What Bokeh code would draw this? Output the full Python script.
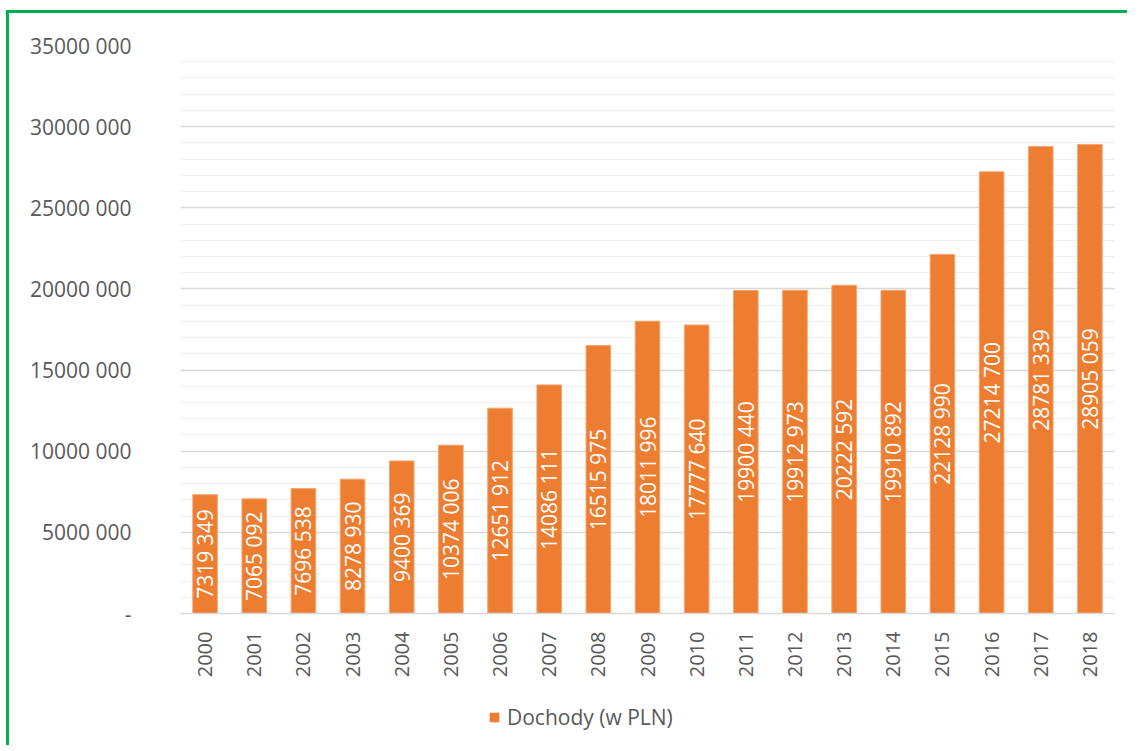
import math
from bokeh.plotting import figure
from bokeh.layouts import column
from bokeh.models import ColumnDataSource, FixedTicker, Legend, LegendItem
from bokeh.core.properties import value
from bokeh.embed import file_html
from bokeh.resources import INLINE

years = [str(y) for y in range(2000, 2019)]
dochody = [7319349, 7065092, 7696538, 8278930, 9400369, 10374006, 12651912,
           14086111, 16515975, 18011996, 17777640, 19900440, 19912973,
           20222592, 19910892, 22128990, 27214700, 28781339, 28905059]
y_ticks = [0, 5000000, 10000000, 15000000, 20000000, 25000000, 30000000, 35000000]
y_tick_labels = ["-", "5000 000", "10000 000", "15000 000", "20000 000",
                 "25000 000", "30000 000", "35000 000"]
y_minor = list(range(0, 35000001, 1000000))
series_name = "Dochody (w PLN)"

FONT = "Open Sans"
GREY = "#595959"
ORANGE = "#ED7D31"


def fmt(v):
    return f"{v // 1000} {v % 1000:03d}"


source = ColumnDataSource(dict(
    year=years,
    value=dochody,
    mid=[v / 2 for v in dochody],
    label=[fmt(v) for v in dochody],
))

p = figure(x_range=years, y_range=(0, 35000000),
           width=1118, height=677,
           output_backend="svg", toolbar_location=None,
           min_border_left=171, min_border_right=13,
           min_border_top=32, min_border_bottom=77)
p.background_fill_color = "white"
p.border_fill_color = "white"
p.outline_line_color = None
p.x_range.range_padding = 0

bars = p.vbar(x="year", top="value", width=0.5, source=source,
              fill_color=ORANGE, line_color="#F4A46E", line_width=1)

p.text(x="year", y="mid", text="label", source=source, angle=math.pi / 2,
       text_align="center", text_baseline="middle", text_color="white",
       text_font=value(FONT), text_font_size="21px")

# y axis
p.yaxis.ticker = FixedTicker(ticks=y_ticks, minor_ticks=y_minor)
p.yaxis.major_label_overrides = {t: l for t, l in zip(y_ticks, y_tick_labels)}
p.yaxis.axis_line_color = None
p.yaxis.major_tick_line_color = None
p.yaxis.minor_tick_line_color = None
p.yaxis.major_label_standoff = 43
p.yaxis.major_label_text_font = FONT
p.yaxis.major_label_text_font_size = "21px"
p.yaxis.major_label_text_color = GREY

# x axis
p.xaxis.axis_line_color = "#D9D9D9"
p.xaxis.axis_line_width = 1.5
p.xaxis.major_tick_line_color = None
p.xaxis.minor_tick_line_color = None
p.xaxis.major_label_orientation = math.pi / 2
p.xaxis.major_label_standoff = 12
p.xaxis.major_label_text_font = FONT
p.xaxis.major_label_text_font_size = "20px"
p.xaxis.major_label_text_color = GREY

# grid
p.xgrid.grid_line_color = None
p.ygrid.grid_line_color = "#D9D9D9"
p.ygrid.grid_line_width = 1.5
p.ygrid.minor_grid_line_color = "#EFEFEF"
p.ygrid.minor_grid_line_width = 1

# legend strip below the chart (its key renderer has zero area, so draws nothing)
q = figure(width=1118, height=55, output_backend="svg", toolbar_location=None,
           min_border=0, x_range=(0, 1), y_range=(0, 1))
q.axis.visible = False
q.grid.visible = False
q.outline_line_color = None
q.background_fill_color = "white"
q.border_fill_color = "white"
key = q.vbar(x=[0.5], top=[0], bottom=[0], width=0,
             fill_color=ORANGE, line_color=None)
legend = Legend(items=[LegendItem(label=series_name, renderers=[key])],
                orientation="horizontal", location=(308, 14),
                label_text_font=FONT, label_text_font_size="21px",
                label_text_color=GREY, glyph_width=12, glyph_height=12,
                border_line_color=None, background_fill_alpha=0,
                margin=0, padding=2, label_standoff=7)
q.add_layout(legend, "center")

layout = column(p, q, spacing=0)
layout.styles = {"border-top": "3px solid #00B050", "border-left": "3px solid #00B050",
                 "margin-left": "6px", "margin-top": "10px"}

open("out.html", "w").write(file_html(layout, INLINE))
